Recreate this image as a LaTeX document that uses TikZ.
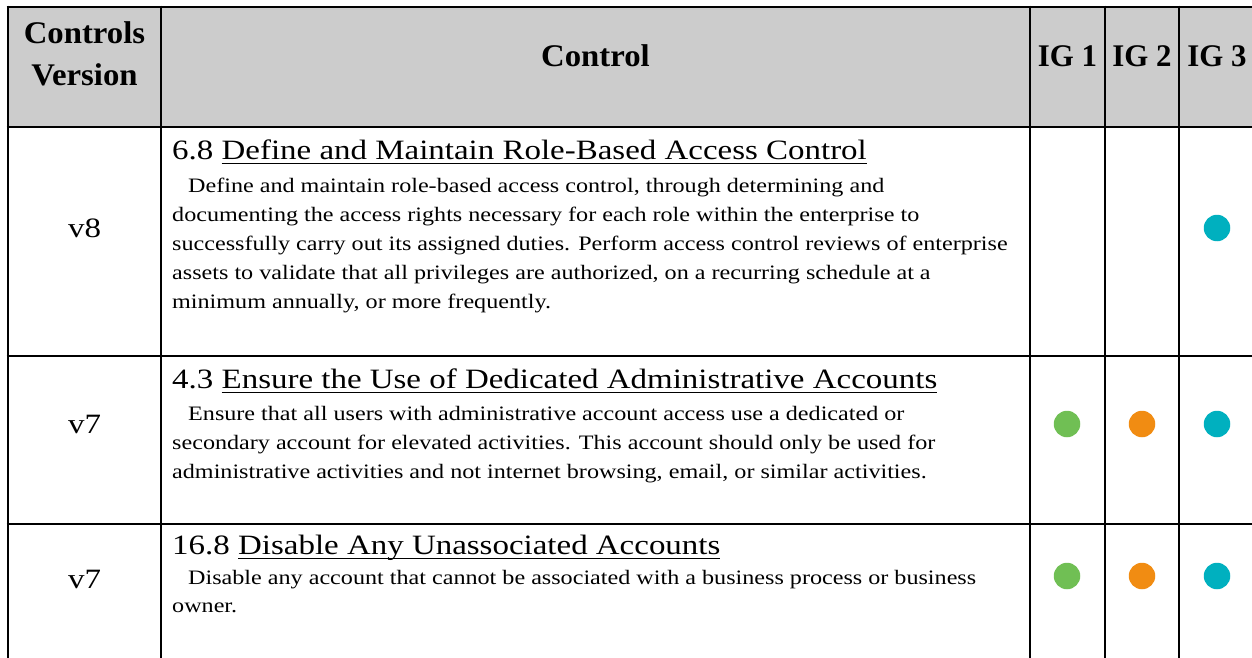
\documentclass[tikz,border=0pt]{standalone}
\usepackage{fontspec}
\setmainfont{Liberation Serif}[FakeStretch=1.177]
\newfontfamily\hdrfont{Liberation Serif}[FakeStretch=1.04]
\newfontfamily\igfont{Liberation Serif}[FakeStretch=0.98]
\newcommand\ulx[1]{\setbox0\hbox{#1}\rlap{\rule[-5pt]{\wd0}{1.5pt}}\box0}
\definecolor{hdrgray}{HTML}{CCCCCC}
\definecolor{iggreen}{HTML}{70BF54}
\definecolor{igorange}{HTML}{F18C12}
\definecolor{igteal}{HTML}{00B0BF}
\tikzset{
  grid/.style={line width=2.6pt, black},
  hdr/.style={font=\hdrfont\fontsize{31.5}{36}\selectfont\bfseries, inner sep=0pt, anchor=base},
  hdrig/.style={font=\igfont\fontsize{31.5}{36}\selectfont\bfseries, inner sep=0pt, anchor=base},
  ver/.style={font=\fontsize{28}{32}\selectfont, inner sep=0pt, anchor=base},
  ttl/.style={font=\fontsize{28}{32}\selectfont, inner sep=0pt, anchor=base west},
  body/.style={font=\fontsize{20.5}{24}\selectfont, inner sep=0pt, anchor=base west},
  dot/.style={circle, inner sep=0pt, minimum size=26.5pt},
}
\begin{document}
\begin{tikzpicture}[x=1pt,y=-1pt]
\useasboundingbox (0,0) rectangle (1252,658);
\clip (0,0) rectangle (1252,658);
% header background
\fill[hdrgray] (8,7) rectangle (1270,127);
% grid lines
\foreach \yy in {7,127,356,524} \draw[grid] (6.7,\yy) -- (1270,\yy);
\foreach \xx in {8,161,1030,1105,1179} \draw[grid] (\xx,5.7) -- (\xx,670);
% header texts
\node[hdr] (hv1) at (84.5,44) {Controls};
\node[hdr] (hv2) at (84.5,86) {Version};
\node[hdr] (hc) at (595.5,67) {Control};
\node[hdrig] (hig1) at (1067.5,67) {IG 1};
\node[hdrig] (hig2) at (1142,67) {IG 2};
\node[hdrig] (hig3) at (1217,67) {IG 3};
% row 1
\node[ver] (v1) at (84.5,237) {v8};
\node[ttl] (t1) at (172,159) {6.8 \ulx{Define and Maintain Role-Based Access Control}};
\node[body] (b11) at (188,192) {Define and maintain role-based access control, through determining and};
\node[body] (b12) at (172,221) {documenting the access rights necessary for each role within the enterprise to};
\node[body] (b13) at (172,250) {successfully carry out its assigned duties. Perform access control reviews of enterprise};
\node[body] (b14) at (172,279) {assets to validate that all privileges are authorized, on a recurring schedule at a};
\node[body] (b15) at (172,308) {minimum annually, or more frequently.};
\node[dot, fill=igteal] (d13) at (1217,228) {};
% row 2
\node[ver] (v2) at (84.5,433) {v7};
\node[ttl] (t2) at (172,388) {4.3 \ulx{Ensure the Use of Dedicated Administrative Accounts}};
\node[body] (b21) at (188,420) {Ensure that all users with administrative account access use a dedicated or};
\node[body] (b22) at (172,449) {secondary account for elevated activities. This account should only be used for};
\node[body] (b23) at (172,478) {administrative activities and not internet browsing, email, or similar activities.};
\node[dot, fill=iggreen] (d21) at (1067,424) {};
\node[dot, fill=igorange] (d22) at (1142,424) {};
\node[dot, fill=igteal] (d23) at (1217,424) {};
% row 3
\node[ver] (v3) at (84.5,588) {v7};
\node[ttl] (t3) at (172,554) {16.8 \ulx{Disable Any Unassociated Accounts}};
\node[body] (b31) at (188,584) {Disable any account that cannot be associated with a business process or business};
\node[body] (b32) at (172,612) {owner.};
\node[dot, fill=iggreen] (d31) at (1067,576) {};
\node[dot, fill=igorange] (d32) at (1142,576) {};
\node[dot, fill=igteal] (d33) at (1217,576) {};
\end{tikzpicture}
\end{document}
